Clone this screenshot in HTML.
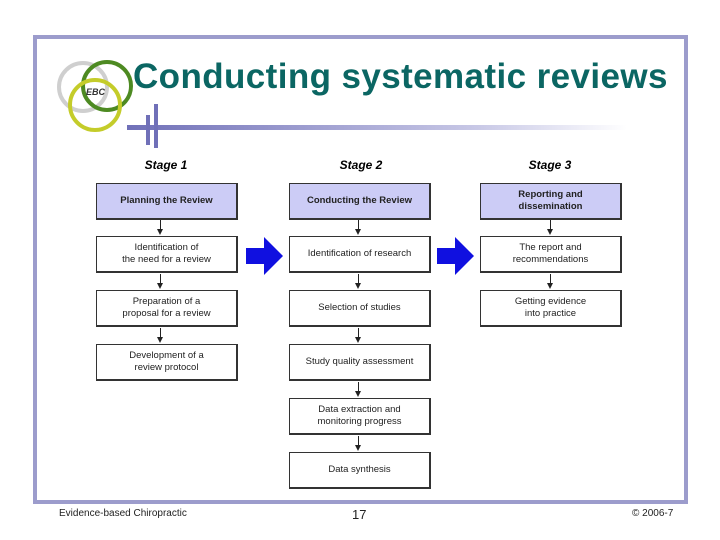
<!DOCTYPE html>
<html><head><style>
body{margin:0;width:720px;height:540px;background:#fff;position:relative;font-family:"Liberation Sans",Arial,sans-serif;overflow:hidden}
.frame{position:absolute;left:33px;top:35px;width:647px;height:461px;border:4px solid #9c9ccc}
.t{position:absolute;left:133px;top:57px;font-size:35px;font-weight:bold;color:#0b6663;white-space:nowrap;letter-spacing:0.4px}
.b{position:absolute;width:142px;height:37px;border:1px solid #333;border-right-width:2px;border-bottom-width:2px;box-sizing:border-box;display:flex;align-items:center;justify-content:center;text-align:center;font-size:9.5px;line-height:12px;color:#222;background:#fff}
.h{background:#ccccf6;font-weight:bold}
.s{position:absolute;font-size:12px;font-weight:bold;font-style:italic;width:142px;text-align:center}
.a{position:absolute;width:1px;height:11px;background:#222}
.a:after{content:"";position:absolute;left:-3px;bottom:-4px;border-left:3.5px solid transparent;border-right:3.5px solid transparent;border-top:6px solid #222}
.f{position:absolute;top:508px;font-size:10px;color:#222}
</style></head><body>
<div class="frame"></div>
<svg style="position:absolute;left:0;top:0" width="720" height="160">
<circle cx="83" cy="87" r="24" fill="none" stroke="#cfcfcf" stroke-width="4"/>
<circle cx="107" cy="86" r="24" fill="none" stroke="#4d8a22" stroke-width="4"/>
<circle cx="95" cy="105" r="25" fill="none" stroke="#c4cc2a" stroke-width="4"/>
<text x="86" y="95" font-size="9" font-style="italic" font-weight="bold" font-family="Liberation Sans" fill="#333">EBC</text>
<defs><linearGradient id="g" x1="0" x2="1"><stop offset="0" stop-color="#7070b8"/><stop offset="0.7" stop-color="#c8c8e6"/><stop offset="1" stop-color="#fff"/></linearGradient></defs>
<rect x="127" y="125" width="500" height="5" fill="url(#g)"/>
<rect x="146" y="115" width="4" height="30" fill="#7070b8"/>
<rect x="154" y="104" width="4" height="44" fill="#7070b8"/>
</svg>
<div class="t">Conducting systematic reviews</div>
<div class="s" style="left:95px;top:158px">Stage 1</div>
<div class="s" style="left:290px;top:158px">Stage 2</div>
<div class="s" style="left:479px;top:158px">Stage 3</div>

<div class="b h" style="left:96px;top:183px">Planning the Review</div>
<div class="b" style="left:96px;top:236px">Identification of<br>the need for a review</div>
<div class="b" style="left:96px;top:290px">Preparation of a<br>proposal for a review</div>
<div class="b" style="left:96px;top:344px">Development of a<br>review protocol</div>

<div class="b h" style="left:289px;top:183px">Conducting the Review</div>
<div class="b" style="left:289px;top:236px">Identification of research</div>
<div class="b" style="left:289px;top:290px">Selection of studies</div>
<div class="b" style="left:289px;top:344px">Study quality assessment</div>
<div class="b" style="left:289px;top:398px">Data extraction and<br>monitoring progress</div>
<div class="b" style="left:289px;top:452px">Data synthesis</div>

<div class="b h" style="left:480px;top:183px">Reporting and<br>dissemination</div>
<div class="b" style="left:480px;top:236px">The report and<br>recommendations</div>
<div class="b" style="left:480px;top:290px">Getting evidence<br>into practice</div>

<div class="a" style="left:160px;top:220px"></div>
<div class="a" style="left:160px;top:274px"></div>
<div class="a" style="left:160px;top:328px"></div>
<div class="a" style="left:358px;top:220px"></div>
<div class="a" style="left:358px;top:274px"></div>
<div class="a" style="left:358px;top:328px"></div>
<div class="a" style="left:358px;top:382px"></div>
<div class="a" style="left:358px;top:436px"></div>
<div class="a" style="left:550px;top:220px"></div>
<div class="a" style="left:550px;top:274px"></div>

<svg style="position:absolute;left:0;top:0" width="720" height="540">
<polygon points="246,248 264,248 264,237 283,256 264,275 264,264 246,264" fill="#1010e0"/>
<polygon points="437,248 455,248 455,237 474,256 455,275 455,264 437,264" fill="#1010e0"/>
</svg>

<div class="f" style="left:59px">Evidence-based Chiropractic</div>
<div class="f" style="left:352px;top:507px;font-size:13px">17</div>
<div class="f" style="left:632px">© 2006-7</div>
</body></html>
